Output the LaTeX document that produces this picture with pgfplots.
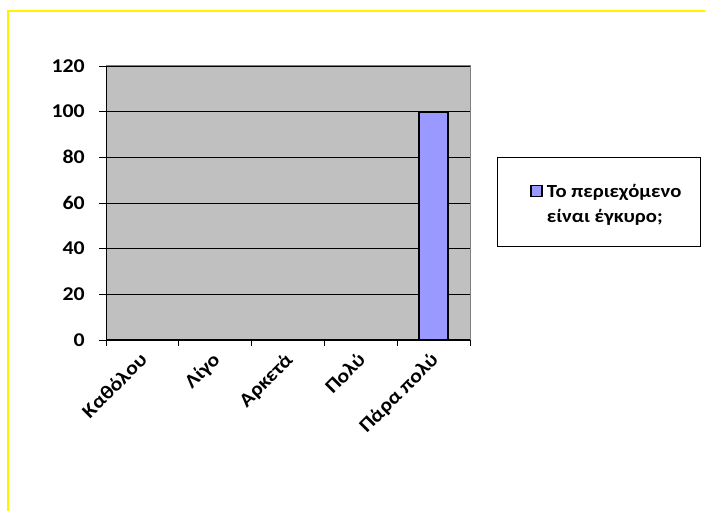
\documentclass[border=0pt]{standalone}
\usepackage{fontspec}
\setmainfont{Carlito}[FakeStretch=1.12]
\usepackage{pgfplots}
\pgfplotsset{compat=1.18}
\definecolor{plotgray}{HTML}{C0C0C0}
\definecolor{barblue}{HTML}{9999FF}
\definecolor{bordergray}{HTML}{808080}
\begin{document}
\begin{tikzpicture}[x=1pt,y=1pt]
\fill[white] (0,0) rectangle (705,511);
\draw[yellow, line width=2pt] (8,0) -- (8,500) -- (706,500);
\draw[black, line width=0.8pt] (497,265) rectangle (700,354);
\begin{axis}[
  at={(106pt,171pt)}, anchor=south west,
  width=364pt, height=274pt, scale only axis,
  xmin=0.5, xmax=5.5, ymin=0, ymax=120,
  ytick={0,20,...,120},
  xtick={1,2,3,4,5},
  xticklabels={Καθόλου,Λίγο,Αρκετά,Πολύ,Πάρα πολύ},
  minor xtick={0.5,1.5,...,5.5},
  xtick pos=bottom, ytick pos=left,
  tick align=outside,
  major tick length=7pt, minor tick length=6pt,
  major x tick style={draw=none},
  tick style={black, line width=0.8pt},
  ymajorgrids, grid style={black, line width=0.8pt},
  axis background/.style={fill=plotgray},
  axis line style={bordergray, line width=1pt},
  /pgf/number format/assume math mode=true,
  tick label style={font=\bfseries\fontsize{19.5}{23}\selectfont},
  yticklabel style={anchor=east, inner sep=0pt, xshift=-14pt},
  xticklabel style={xshift=-4pt, yshift=-4pt, rotate=45, anchor=north east, inner sep=0pt},
  legend style={at={(axis description cs:1.376,0.496)}, anchor=center, draw=none, fill=none,
    font=\bfseries\fontsize{18.5}{25.5}\selectfont,
    nodes={align=left, inner sep=2pt}},
  legend image code/.code={\path[draw=none,fill=none] (0pt,0pt) -- (14pt,0pt); \draw[fill=barblue,draw=black,line width=1.5pt] (0pt,7.5pt) rectangle (11pt,18.5pt);},
]
\addplot[ybar, bar width=29pt, fill=barblue, draw=black, line width=2pt] coordinates {(1,0) (2,0) (3,0) (4,0) (5,100)};
\addlegendentry{Το περιεχόμενο\\είναι έγκυρο;}
\draw[black, line width=1.5pt] (rel axis cs:0,1) -- (rel axis cs:0,0) -- (rel axis cs:1,0);
\end{axis}
\pgfresetboundingbox
\path[use as bounding box] (0,0) rectangle (705,511);
\end{tikzpicture}
\end{document}
